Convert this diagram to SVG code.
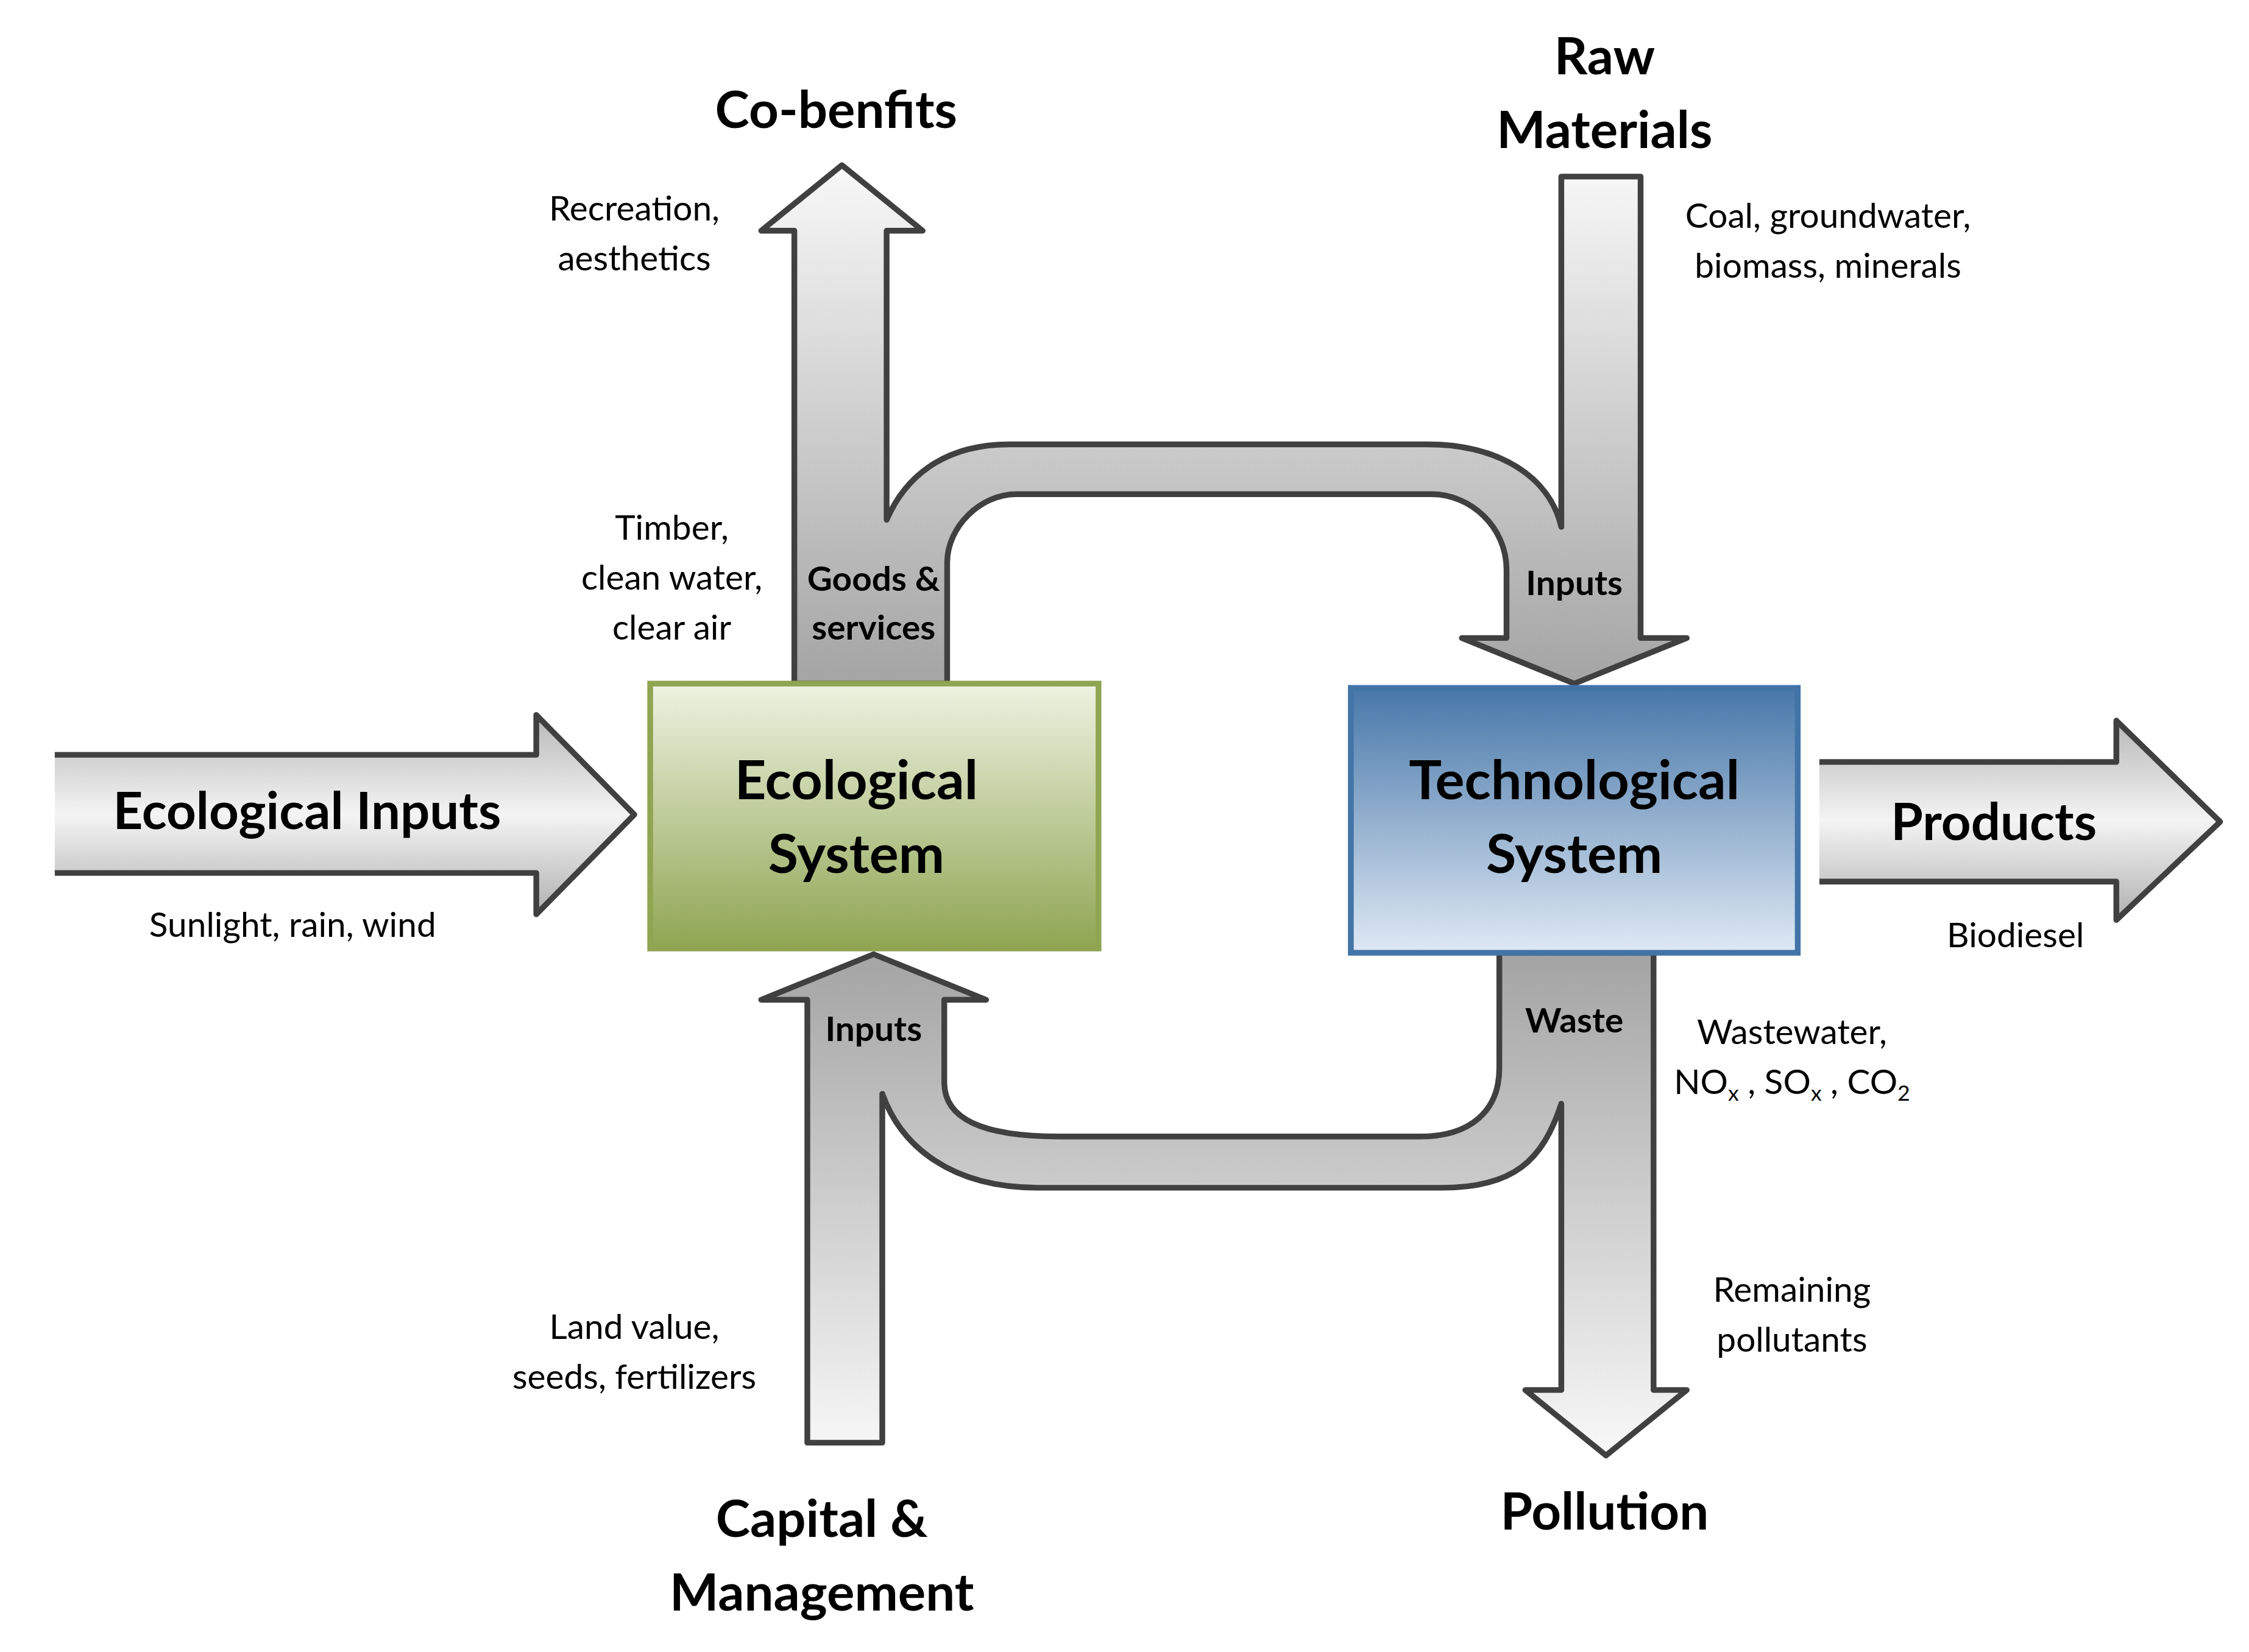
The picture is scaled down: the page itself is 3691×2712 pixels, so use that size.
<svg xmlns="http://www.w3.org/2000/svg" width="3691" height="2712" viewBox="0 0 3691 2712">
<defs>
<linearGradient id="gh" x1="0" y1="0" x2="0" y2="1"><stop offset="0" stop-color="#b8b8b8"/><stop offset="0.5" stop-color="#f4f4f4"/><stop offset="1" stop-color="#b0b0b0"/></linearGradient>
<linearGradient id="gtop" gradientUnits="userSpaceOnUse" x1="0" y1="116" x2="0" y2="480"><stop offset="0" stop-color="#f8f8f8"/><stop offset="1" stop-color="#a4a4a4"/></linearGradient>
<linearGradient id="gbot" gradientUnits="userSpaceOnUse" x1="0" y1="670" x2="0" y2="1022"><stop offset="0" stop-color="#a4a4a4"/><stop offset="1" stop-color="#f8f8f8"/></linearGradient>
<linearGradient id="geco" x1="0" y1="0" x2="0" y2="1"><stop offset="0" stop-color="#eef2e2"/><stop offset="1" stop-color="#8fa552"/></linearGradient>
<linearGradient id="gtech" x1="0" y1="0" x2="0" y2="1"><stop offset="0" stop-color="#4777a9"/><stop offset="1" stop-color="#dfe9f4"/></linearGradient>
</defs>
<style>
.ar{stroke:#404040;stroke-width:4;stroke-linejoin:round}
.t{font-family:Lato,"Open Sans",sans-serif;font-size:24px;fill:#000;text-anchor:middle}
.b{font-weight:bold}
.h{font-family:Lato,"Open Sans",sans-serif;font-size:36px;font-weight:bold;fill:#000;text-anchor:middle}
.bx{font-family:Lato,"Open Sans",sans-serif;font-size:38px;font-weight:bold;fill:#000;text-anchor:middle}
</style>
<g transform="scale(2.366,2.338)">
<g id="connectors">
<path class="ar" fill="url(#gtop)" d="M584 116 L640 162 H615 V365 C630 330 660 312 700 312 H990 C1040 312 1075 335 1083 370 V124 H1138 V448 H1170 L1092 480 L1014 448 H1045 V400 C1045 370 1020 347 993 347 H705 C680 347 657 370 657 395 V480 H551 V162 H528 Z"/>
<path class="ar" fill="url(#gbot)" d="M606 670 L684 702 H655 V760 C655 785 680 798 735 798 H985 C1020 798 1040 780 1040 750 V669 H1147 V976 H1170 L1114 1022 L1058 976 H1083 V775 C1070 815 1050 834 1000 834 H720 C660 834 625 805 612 768 V1013 H560 V702 H528 Z"/>
<path fill="url(#gh)" d="M38 530 H372 V502 L440 572 L372 642 V613 H38 Z"/>
<path class="ar" fill="none" d="M38 530 H372 V502 L440 572 L372 642 V613 H38"/>
<path fill="url(#gh)" d="M1262 535 H1468 V506 L1540 577 L1468 646 V619 H1262 Z"/>
<path class="ar" fill="none" d="M1262 535 H1468 V506 L1540 577 L1468 646 V619 H1262"/>
</g>
<g id="eco">
<rect x="451" y="480" width="311" height="186" fill="url(#geco)" stroke="#8fa552" stroke-width="4"/>
<text class="bx" x="594" y="561">Ecological</text>
<text class="bx" x="594" y="613">System</text>
</g>
<g id="tech">
<rect x="937" y="483" width="310" height="186" fill="url(#gtech)" stroke="#4274a8" stroke-width="4"/>
<text class="bx" x="1092" y="561">Technological</text>
<text class="bx" x="1092" y="613">System</text>
</g>
<g id="labels">
<text class="h" x="213" y="582">Ecological Inputs</text>
<text class="t" x="203" y="658">Sunlight, rain, wind</text>
<text class="h" x="1383" y="590">Products</text>
<text class="t" x="1398" y="665">Biodiesel</text>
<text class="h" x="580" y="90">Co-benfits</text>
<text class="h" x="1113" y="52">Raw</text>
<text class="h" x="1113" y="104">Materials</text>
<text class="t" x="440" y="155">Recreation,</text>
<text class="t" x="440" y="190">aesthetics</text>
<text class="t" x="1268" y="160">Coal, groundwater,</text>
<text class="t" x="1268" y="195">biomass, minerals</text>
<text class="t" x="466" y="379">Timber,</text>
<text class="t" x="466" y="414">clean water,</text>
<text class="t" x="466" y="449">clear air</text>
<text class="t b" x="606" y="415">Goods &amp;</text>
<text class="t b" x="606" y="449">services</text>
<text class="t b" x="1092" y="418">Inputs</text>
<text class="t b" x="606" y="731">Inputs</text>
<text class="t b" x="1092" y="725">Waste</text>
<text class="t" x="1243" y="733">Wastewater,</text>
<text class="t" x="1243" y="768">NO<tspan font-size="15" dy="5">x</tspan><tspan dy="-5"> , SO</tspan><tspan font-size="15" dy="5">x</tspan><tspan dy="-5"> , CO</tspan><tspan font-size="15" dy="5">2</tspan></text>
<text class="t" x="1243" y="914">Remaining</text>
<text class="t" x="1243" y="949">pollutants</text>
<text class="t" x="440" y="940">Land value,</text>
<text class="t" x="440" y="975">seeds, fertilizers</text>
<text class="h" x="570" y="1079">Capital &amp;</text>
<text class="h" x="570" y="1131">Management</text>
<text class="h" x="1113" y="1074">Pollution</text>
</g>
</g>
</svg>
